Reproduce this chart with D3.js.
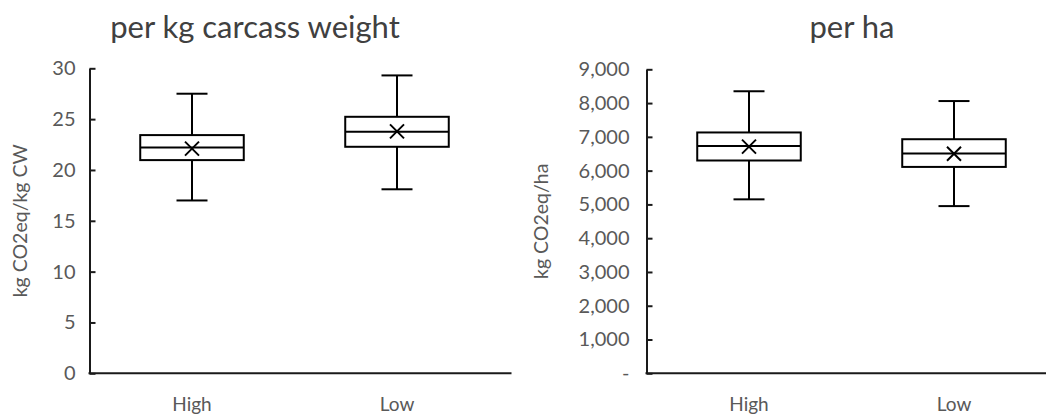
<!DOCTYPE html>
<html>
<head>
<meta charset="utf-8">
<script src="https://cdn.jsdelivr.net/npm/d3@7"></script>
<style>
  html, body { margin: 0; padding: 0; background: #fff; }
  svg { display: block; font-family: Lato, "Open Sans", sans-serif; }
</style>
</head>
<body>
<div id="graph"></div>
<script>
// categories and box statistics
var categories = ["High", "Low"];

var cw_min    = [17.0, 18.1];
var cw_q1     = [20.97, 22.28];
var cw_median = [22.2, 23.76];
var cw_q3     = [23.43, 25.23];
var cw_max    = [27.5, 29.3];
var cw_mean   = [22.1, 23.8];
var cw_ticks  = [0, 5, 10, 15, 20, 25, 30];

var ha_min    = [5150, 4950];
var ha_q1     = [6300, 6110];
var ha_median = [6730, 6510];
var ha_q3     = [7130, 6930];
var ha_max    = [8350, 8060];
var ha_mean   = [6710, 6500];
var ha_ticks  = [0, 1000, 2000, 3000, 4000, 5000, 6000, 7000, 8000, 9000];

var g_svg = d3.select("#graph")
  .append("svg")
    .attr("width", 1046)
    .attr("height", 419);

//----------------------------------------------------------
function Rows(mins, q1s, medians, q3s, maxs, means) {
    return categories.map(function (c, i) {
        return { name: c, min: mins[i], q1: q1s[i], median: medians[i],
                 q3: q3s[i], max: maxs[i], mean: means[i] };
    });
}

function DrawPanel(opts) {
    var g = g_svg.append("g");

    var x = d3.scaleBand()
        .domain(categories)
        .range([opts.x0, opts.x1])
        .padding(0);

    var y = d3.scaleLinear()
        .domain([0, opts.ticks[opts.ticks.length - 1]])
        .range([373.3, opts.top]);

    // y axis, ticks pointing inward
    var axis = d3.axisLeft(y)
        .tickValues(opts.ticks)
        .tickSizeInner(-6)
        .tickSizeOuter(0)
        .tickPadding(opts.pad)
        .tickFormat(opts.format);

    var ya = g.append("g")
        .attr("transform", "translate(" + opts.x0 + ",0)")
        .call(axis);
    ya.select(".domain").attr("stroke", "#1a1a1a").attr("stroke-width", 2);
    ya.selectAll(".tick line").attr("stroke", "#1a1a1a").attr("stroke-width", 2);
    ya.selectAll(".tick text")
        .attr("fill", "#595959")
        .style("font-size", "20px")
        .style("font-family", "Lato, sans-serif");

    // x axis baseline and category labels
    g.append("line")
        .attr("x1", opts.x0 - 1).attr("x2", opts.x1 + 12)
        .attr("y1", y(0)).attr("y2", y(0))
        .attr("stroke", "#1a1a1a")
        .attr("stroke-width", 2);

    g.selectAll("text.cat")
      .data(categories)
      .join("text")
        .attr("class", "cat")
        .attr("x", function (d) { return x(d) + x.bandwidth() / 2; })
        .attr("y", 411)
        .attr("text-anchor", "middle")
        .attr("fill", "#595959")
        .style("font-size", "19px")
        .text(function (d) { return d; });

    // boxes
    var bw = x.bandwidth() * 0.505;
    var cap = 31;
    var box = g.selectAll("g.box")
      .data(opts.rows)
      .join("g")
        .attr("class", "box")
        .attr("transform", function (d) {
            return "translate(" + (x(d.name) + x.bandwidth() / 2) + ",0)";
        })
        .attr("stroke", "#000")
        .attr("stroke-width", 2)
        .attr("fill", "none");

    box.append("line")
        .attr("x1", 0).attr("x2", 0)
        .attr("y1", function (d) { return y(d.max); })
        .attr("y2", function (d) { return y(d.q3); });
    box.append("line")
        .attr("x1", 0).attr("x2", 0)
        .attr("y1", function (d) { return y(d.q1); })
        .attr("y2", function (d) { return y(d.min); });
    box.append("line")
        .attr("x1", -cap / 2).attr("x2", cap / 2)
        .attr("y1", function (d) { return y(d.max); })
        .attr("y2", function (d) { return y(d.max); });
    box.append("line")
        .attr("x1", -cap / 2).attr("x2", cap / 2)
        .attr("y1", function (d) { return y(d.min); })
        .attr("y2", function (d) { return y(d.min); });
    box.append("rect")
        .attr("x", -bw / 2)
        .attr("width", bw)
        .attr("y", function (d) { return y(d.q3); })
        .attr("height", function (d) { return y(d.q1) - y(d.q3); })
        .attr("fill", "#fff");
    box.append("line")
        .attr("x1", -bw / 2).attr("x2", bw / 2)
        .attr("y1", function (d) { return y(d.median); })
        .attr("y2", function (d) { return y(d.median); });
    box.append("path")
        .attr("d", function (d) {
            var m = y(d.mean), s = 7;
            return "M" + (-s) + "," + (m - s) + "L" + s + "," + (m + s) +
                   "M" + s + "," + (m - s) + "L" + (-s) + "," + (m + s);
        });

    // titles
    g.append("text")
        .attr("x", opts.titleX)
        .attr("y", 38)
        .attr("text-anchor", "middle")
        .attr("fill", "#404040")
        .style("font-size", "31px")
        .text(opts.title);

    g.append("text")
        .attr("transform", "translate(" + opts.labelX + "," + ((373.3 + opts.top) / 2) + ") rotate(-90)")
        .attr("text-anchor", "middle")
        .attr("fill", "#595959")
        .style("font-size", "19.5px")
        .text(opts.label);
}

//----------------------------------------------------------
DrawPanel({
    x0: 89.5, x1: 499.5, top: 68.3,
    ticks: cw_ticks, pad: 14,
    format: function (v) { return String(v); },
    rows: Rows(cw_min, cw_q1, cw_median, cw_q3, cw_max, cw_mean),
    title: "per kg carcass weight", titleX: 255,
    label: "kg CO2eq/kg CW", labelX: 27
});

var fmt = d3.format(",d");
DrawPanel({
    x0: 646.5, x1: 1056.5, top: 69.3,
    ticks: ha_ticks, pad: 17,
    format: function (v) { return v === 0 ? "-" : fmt(v); },
    rows: Rows(ha_min, ha_q1, ha_median, ha_q3, ha_max, ha_mean),
    title: "per ha", titleX: 852,
    label: "kg CO2eq/ha", labelX: 548
});
</script>
</body>
</html>
